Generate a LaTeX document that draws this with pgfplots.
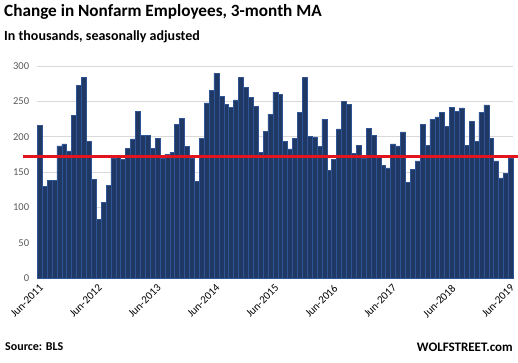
\documentclass[border=0pt]{standalone}
\usepackage{fontspec}
\setmainfont{Carlito}
\usepackage{pgfplots}
\pgfplotsset{compat=1.18}
\usepackage{pgfplotstable}
\definecolor{barfill}{RGB}{31,56,100}
\definecolor{baredge}{RGB}{47,85,151}
\definecolor{gridc}{RGB}{217,217,217}
\definecolor{tickc}{RGB}{89,89,89}
\definecolor{redline}{RGB}{226,20,30}
\pgfplotstableread{
i v
0 216
1 130
2 138
3 138
4 187
5 190
6 180
7 230
8 273
9 284
10 194
11 140
12 83
13 107
14 131
15 170
16 171
17 168
18 184
19 197
20 236
21 202
22 202
23 184
24 198
25 170
26 175
27 178
28 218
29 226
30 186
31 170
32 137
33 198
34 248
35 266
36 290
37 257
38 246
39 242
40 252
41 284
42 270
43 256
44 243
45 178
46 208
47 232
48 263
49 260
50 194
51 183
52 198
53 235
54 284
55 201
56 200
57 186
58 225
59 153
60 168
61 211
62 250
63 246
64 177
65 188
66 170
67 212
68 202
69 173
70 160
71 156
72 190
73 187
74 207
75 136
76 154
77 166
78 218
79 188
80 225
81 228
82 235
83 215
84 242
85 236
86 241
87 188
88 222
89 194
90 234
91 245
92 198
93 166
94 142
95 148
96 170
}\datatable
\begin{document}
\begin{tikzpicture}[x=1pt,y=1pt]
\path[use as bounding box] (0,0) rectangle (518,362);
\begin{axis}[
  at={(37.3pt,83.7pt)}, anchor=south west,
  scale only axis, width=476pt, height=212.3pt,
  xmin=-0.5, xmax=96.5, ymin=0, ymax=300,
  axis line style={draw=none},
  tick style={draw=none},
  ytick={0,50,...,300},
  ymajorgrids, grid style={gridc, line width=0.9pt},
  xtick={0,12,...,96},
  xticklabels={Jun-2011,Jun-2012,Jun-2013,Jun-2014,Jun-2015,Jun-2016,Jun-2017,Jun-2018,Jun-2019},
  xticklabel style={rotate=45, anchor=north east, font=\fontsize{11}{13}\selectfont, text=black, inner sep=1pt, xshift=-3.5pt, yshift=-2pt},
  yticklabel style={font=\fontsize{10.5}{12}\selectfont, text=tickc, inner sep=1pt, xshift=-7pt},
  /pgf/number format/assume math mode=true,
  clip=false,
]
\addplot[ybar, bar width=1, fill=barfill, draw=baredge, line width=0.5pt] table[x=i, y=v] {\datatable};
\addplot[redline, line width=3.2pt, forget plot] coordinates {(-3.4,172.5) (97.45,172.5)};
\end{axis}
\node[anchor=west, font=\bfseries\fontsize{17.2}{19}\selectfont, inner sep=0pt] at (4,350) {Change in Nonfarm Employees, 3-month MA};
\node[anchor=west, font=\bfseries\fontsize{14}{16}\selectfont, inner sep=0pt] at (4,325) {In thousands, seasonally adjusted};
\node[anchor=west, font=\bfseries\fontsize{12}{14}\selectfont, inner sep=0pt] at (5,15) {Source: BLS};
\node[anchor=east, font=\bfseries\fontsize{13}{15}\selectfont, inner sep=0pt] at (513,15) {WOLFSTREET.com};
\end{tikzpicture}
\end{document}
